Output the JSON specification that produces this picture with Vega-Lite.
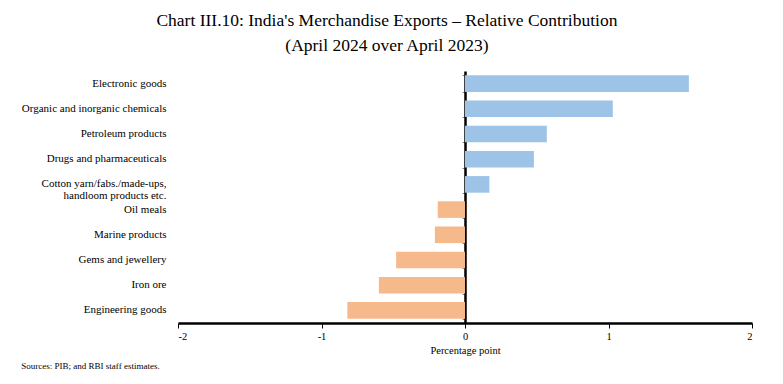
{
  "$schema": "https://vega.github.io/schema/vega-lite/v6.json",
  "background": "white",
  "padding": {"left": 21, "top": 11, "right": 5, "bottom": 5},
  "title": {
    "text": ["Chart III.10: India's Merchandise Exports – Relative Contribution", "(April 2024 over April 2023)"],
    "font": "Liberation Serif",
    "fontSize": 17.5,
    "fontWeight": "normal",
    "lineHeight": 25,
    "color": "black",
    "anchor": "middle",
    "frame": "bounds",
    "offset": 17
  },
  "config": {
    "view": {"stroke": null},
    "font": "Liberation Serif"
  },
  "vconcat": [
    {
      "width": 574,
      "height": 252,
      "title": {
        "text": "Sources: PIB; and RBI staff estimates.",
        "orient": "bottom",
        "anchor": "start",
        "frame": "bounds",
        "offset": 6,
        "font": "Liberation Serif",
        "fontSize": 9,
        "fontWeight": "normal",
        "color": "black"
      },
      "data": {
        "values": [
          {"item": "Electronic goods", "value": 1.56},
          {"item": "Organic and inorganic chemicals", "value": 1.03},
          {"item": "Petroleum products", "value": 0.57},
          {"item": "Drugs and pharmaceuticals", "value": 0.48},
          {"item": "Cotton yarn/fabs./made-ups, handloom products etc.", "value": 0.17},
          {"item": "Oil meals", "value": -0.19},
          {"item": "Marine products", "value": -0.21},
          {"item": "Gems and jewellery", "value": -0.48},
          {"item": "Iron ore", "value": -0.6},
          {"item": "Engineering goods", "value": -0.82}
        ]
      },
      "resolve": {"axis": {"y": "independent"}},
      "layer": [
        {
          "mark": {"type": "bar"},
          "encoding": {
            "y": {
              "field": "item",
              "type": "nominal",
              "sort": null,
              "scale": {"paddingInner": 0.34, "paddingOuter": 0.17},
              "axis": {
                "orient": "left",
                "title": null,
                "domain": false,
                "ticks": false,
                "labelPadding": 12,
                "labelFontSize": 11,
                "labelColor": "black",
                "labelFont": "Liberation Serif",
                "labelLineHeight": 12,
                "labelExpr": "datum.value == 'Cotton yarn/fabs./made-ups, handloom products etc.' ? ['Cotton yarn/fabs./made-ups,', 'handloom products etc.'] : datum.value"
              }
            },
            "x": {
              "field": "value",
              "type": "quantitative",
              "scale": {"domain": [-2, 2], "nice": false},
              "axis": {
                "title": "Percentage point",
                "values": [-2, -1, 0, 1, 2],
                "labelExpr": "replace(datum.label, '−', '-')",
                "format": "d",
                "grid": false,
                "domainColor": "black",
                "domainWidth": 2.5,
                "tickColor": "black",
                "tickSize": 5,
                "labelFontSize": 10.5,
                "labelColor": "black",
                "labelPadding": 3,
                "titleFontSize": 10.5,
                "titleFontWeight": "normal",
                "titleColor": "black",
                "titlePadding": 4
              }
            },
            "color": {
              "condition": {"test": "datum.value >= 0", "value": "#9dc3e6"},
              "value": "#f6b98c"
            }
          }
        },
        {
          "mark": {"type": "bar", "opacity": 0},
          "encoding": {
            "y": {
              "field": "item",
              "type": "nominal",
              "sort": null,
              "axis": {
                "orient": "left",
                "offset": -287,
                "title": null,
                "labels": false,
                "ticks": true,
                "tickBand": "extent",
                "tickSize": 3,
                "tickColor": "#888888",
                "domain": true,
                "domainColor": "black",
                "domainWidth": 2.5
              }
            },
            "x": {"field": "value", "type": "quantitative"}
          }
        }
      ]
    }
  ]
}
